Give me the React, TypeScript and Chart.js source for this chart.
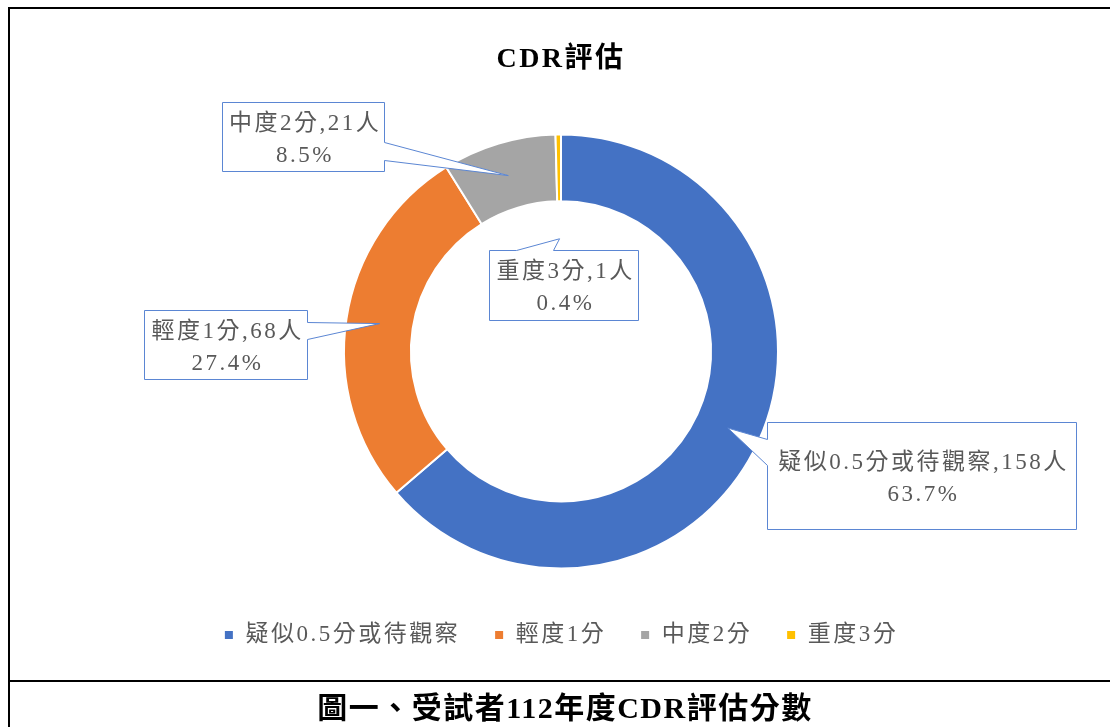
import React, { useEffect, useRef } from 'react';
import { Chart, registerables } from 'chart.js';

Chart.register(...registerables);

// ---- data ----
const categories = ['疑似0.5分或待觀察', '輕度1分', '中度2分', '重度3分'];
const counts = [158, 68, 21, 1];
const sliceColors = ['#4472C4', '#ED7D31', '#A5A5A5', '#FFC000'];
const chartTitle = 'CDR評估';
const captionText = '圖一、受試者112年度CDR評估分數';
const unitText = '人';

// ---- callout layout (box: x, y, w, h; pointer side and base; t = radial position of tip within ring) ----
const calloutLayout = [
  { box: [767, 422, 309, 107], side: 'left', base: [439, 465], t: 0.5 },
  { box: [144, 310, 163, 69], side: 'right', base: [322, 339], t: 0.5 },
  { box: [222, 102, 162, 69], side: 'right', base: [142, 160], t: 0.5 },
  { box: [489, 250, 149, 70], side: 'top', base: [516, 553], t: -0.56 },
];

const FONT = '"Liberation Serif", "Noto Sans CJK TC", serif';
const SPACING = '2.5px';

function calloutPath(ctx: CanvasRenderingContext2D, x: number, y: number, w: number, h: number,
  side: string, b0: number, b1: number, tx: number, ty: number) {
  ctx.beginPath();
  ctx.moveTo(x, y);
  if (side === 'top') { ctx.lineTo(b0, y); ctx.lineTo(tx, ty); ctx.lineTo(b1, y); }
  ctx.lineTo(x + w, y);
  if (side === 'right') { ctx.lineTo(x + w, b0); ctx.lineTo(tx, ty); ctx.lineTo(x + w, b1); }
  ctx.lineTo(x + w, y + h);
  ctx.lineTo(x, y + h);
  if (side === 'left') { ctx.lineTo(x, b1); ctx.lineTo(tx, ty); ctx.lineTo(x, b0); }
  ctx.closePath();
}

const spacingPlugin = {
  id: 'letterSpacing',
  beforeLayout(chart: any) { (chart.ctx as any).letterSpacing = SPACING; },
  beforeDraw(chart: any) { (chart.ctx as any).letterSpacing = SPACING; },
};

const calloutPlugin = {
  id: 'callouts',
  afterDatasetsDraw(chart: any) {
    const ctx: CanvasRenderingContext2D = chart.ctx;
    const meta = chart.getDatasetMeta(0);
    const total = counts.reduce((a, b) => a + b, 0);
    ctx.save();
    (ctx as any).letterSpacing = SPACING;
    meta.data.forEach((arc: any, i: number) => {
      const L = calloutLayout[i];
      if (!L) return;
      const p = arc.getProps(['x', 'y', 'startAngle', 'endAngle', 'innerRadius', 'outerRadius'], true);
      const a = (p.startAngle + p.endAngle) / 2;
      const r = p.innerRadius + L.t * (p.outerRadius - p.innerRadius);
      const tx = p.x + Math.cos(a) * r;
      const ty = p.y + Math.sin(a) * r;
      const [x, y, w, h] = L.box;
      calloutPath(ctx, x + 0.5, y + 0.5, w, h, L.side, L.base[0] + 0.5, L.base[1] + 0.5, tx, ty);
      ctx.fillStyle = '#ffffff';
      ctx.fill();
      ctx.strokeStyle = '#5B86D3';
      ctx.lineWidth = 1;
      ctx.stroke();
      const pct = ((counts[i] / total) * 100).toFixed(1) + '%';
      const line1 = `${categories[i]},${counts[i]}${unitText}`;
      ctx.fillStyle = '#595959';
      ctx.font = `23px ${FONT}`;
      ctx.textAlign = 'center';
      ctx.textBaseline = 'middle';
      const cx = x + w / 2 + 2;
      const cy = y + h / 2 + 3;
      ctx.fillText(line1, cx, cy - 16);
      ctx.fillText(pct, cx, cy + 16);
    });
    ctx.restore();
  },
};

function DoughnutChart() {
  const ref = useRef<HTMLCanvasElement | null>(null);
  useEffect(() => {
    if (!ref.current) return;
    const chart = new Chart(ref.current, {
      type: 'doughnut',
      data: {
        labels: categories,
        datasets: [{
          data: counts,
          backgroundColor: sliceColors,
          borderColor: '#ffffff',
          borderWidth: 2,
        }],
      },
      options: {
        responsive: false,
        animation: false,
        radius: 217,
        cutout: 164,
        layout: { padding: { left: 20, right: 8, top: 0, bottom: 23.5 } },
        plugins: {
          title: {
            display: true,
            text: chartTitle,
            color: '#000000',
            font: { family: FONT, size: 28, weight: 'bold' },
            padding: { top: 43, bottom: 36.7 },
          },
          legend: {
            display: true,
            position: 'bottom',
            labels: {
              color: '#595959',
              font: { family: FONT, size: 23 },
              boxWidth: 10,
              boxHeight: 10,
              padding: 34,
            },
          },
          tooltip: { enabled: false },
        },
      } as any,
      plugins: [spacingPlugin, calloutPlugin],
    });
    return () => chart.destroy();
  }, []);
  return (
    <canvas
      ref={ref}
      width={1110}
      height={680}
      style={{ position: 'absolute', left: 0, top: 0, width: 1110, height: 680, background: '#ffffff' }}
    />
  );
}

export default function App() {
  return (
    <div style={{ position: 'absolute', left: 0, top: 0, width: 1110, height: 727, overflow: 'hidden', background: '#ffffff' }}>
      <DoughnutChart />
      <div style={{ position: 'absolute', left: 8, top: 7, width: 1102, height: 2, background: '#000' }} />
      <div style={{ position: 'absolute', left: 8, top: 7, width: 2, height: 720, background: '#000' }} />
      <div style={{ position: 'absolute', left: 8, top: 680, width: 1102, height: 2, background: '#000' }} />
      <div style={{
        position: 'absolute', left: 20, top: 682, width: 1090, height: 52, lineHeight: '52px',
        textAlign: 'center', fontFamily: FONT, fontWeight: 'bold', fontSize: 30, letterSpacing: '1.5px', color: '#000',
      }}>{captionText}</div>
    </div>
  );
}
